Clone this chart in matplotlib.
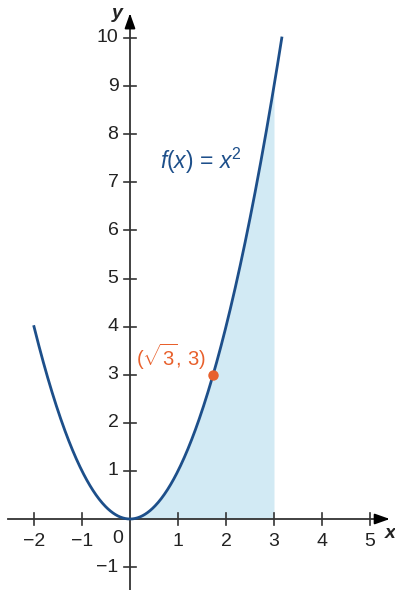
import numpy as np
import matplotlib
matplotlib.use("Agg")
import matplotlib.pyplot as plt

plt.rcParams['font.family'] = ['Liberation Sans', 'DejaVu Sans']
plt.rcParams['mathtext.fontset'] = 'custom'
plt.rcParams['mathtext.rm'] = 'Liberation Sans'
plt.rcParams['mathtext.it'] = 'Liberation Sans:italic'
plt.rcParams['mathtext.bf'] = 'Liberation Sans:bold'

# data
x_ticks = [-2, -1, 1, 2, 3, 4, 5]
y_ticks = [-1, 1, 2, 3, 4, 5, 6, 7, 8, 9, 10]
curve_start, curve_end = -2, np.sqrt(10)
shade_start, shade_end = 0, 3
point = (np.sqrt(3), 3)

curve_color = '#1d4f8a'
fill_color = '#d2eaf4'
point_color = '#e8602c'
axis_color = '#333333'
text_color = '#222222'

fig = plt.figure(figsize=(3.95, 5.9), dpi=100)
ax = fig.add_axes([0, 0, 1, 1])
ax.set_xlim(-2.708, 5.521)
ax.set_ylim(-1.476, 10.79)
ax.axis('off')

xs = np.linspace(curve_start, curve_end, 400)
xf = np.linspace(shade_start, shade_end, 200)
ax.fill_between(xf, 0, xf**2, color=fill_color, lw=0, zorder=1)

# axes
ax.plot([-2.54, 5.35], [0, 0], color=axis_color, lw=1.3, zorder=2)
ax.plot([0, 0], [-1.5, 10.45], color=axis_color, lw=1.3, zorder=2)
ax.annotate('', xy=(5.47, 0), xytext=(5.2, 0),
            arrowprops=dict(arrowstyle='-|>,head_length=0.9,head_width=0.32', color='black', lw=1.3), zorder=3)
ax.annotate('', xy=(0, 10.57), xytext=(0, 10.25),
            arrowprops=dict(arrowstyle='-|>,head_length=0.9,head_width=0.32', color='black', lw=1.3), zorder=3)

tick_w = 0.12
for t in x_ticks:
    ax.plot([t, t], [-tick_w, tick_w], color=axis_color, lw=1.2, zorder=2)
    ax.text(t, -0.3, f'{t}'.replace('-', '\u2212'), ha='center', va='top', fontsize=14, color=text_color)
for t in y_ticks:
    ax.plot([-tick_w, tick_w], [t, t], color=axis_color, lw=1.2, zorder=2)
    ax.text(-0.24, t, f'{t}'.replace('-', '\u2212'), ha='right', va='center', fontsize=14, color=text_color)
ax.text(-0.26, -0.22, '0', ha='center', va='top', fontsize=14, color=text_color)

ax.text(5.3, -0.12, 'x', ha='left', va='top', fontsize=14, fontweight='bold', style='italic', color=text_color)
ax.text(-0.15, 10.5, 'y', ha='right', va='center', fontsize=14, fontweight='bold', style='italic', color=text_color)

ax.plot(xs, xs**2, color=curve_color, lw=2.0, zorder=4)
ax.plot(*point, 'o', color=point_color, ms=6.5, zorder=5)

ax.text(0.62, 7.45, r'$f(x)$ = $x^2$', color=curve_color, fontsize=16.5, ha='left', va='center')
ax.text(1.58, 3.37, r'($\sqrt{3}$, 3)', color=point_color, fontsize=14.5, ha='right', va='center')

fig.savefig('out.png', dpi=100)
